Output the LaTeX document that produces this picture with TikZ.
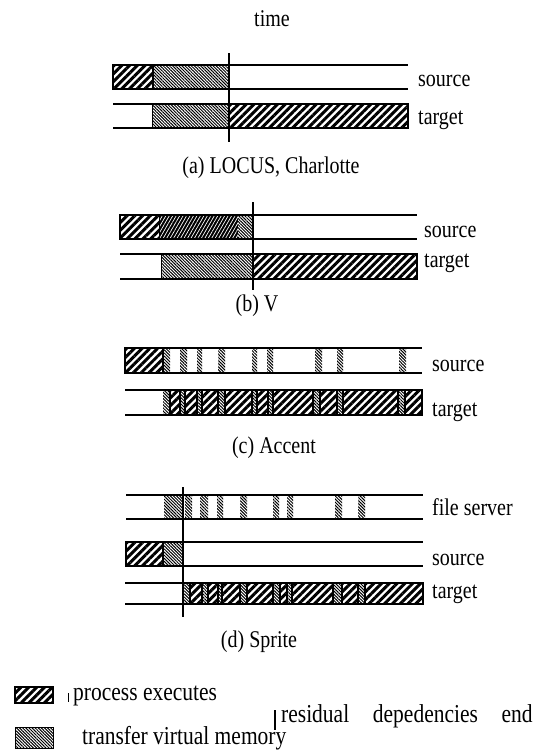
\documentclass[tikz,border=0pt]{standalone}
\usepackage{fontspec}
\setmainfont{Liberation Serif}
\usetikzlibrary{patterns.meta}
\newcommand{\tallt}[1]{\scalebox{1}[1.2]{#1}}
\tikzset{
  x=1pt, y=-1pt,
  every node/.style={inner sep=0pt, font=\fontsize{20}{22}\selectfont},
  track/.style={line width=1.3pt},
  marker/.style={line width=1.6pt},
  exec/.style={
    draw=black, line width=1.6pt,
    pattern={Lines[angle=45, distance=5.5pt, line width=3pt]},
  },
  xfer/.style={
    pattern={Lines[angle=-45, distance=2.2pt, line width=1pt]},
  },
  xferbox/.style={xfer, draw=black, line width=1pt},
  xferdark/.style={
    preaction={fill=black},
    pattern={Lines[angle=60, distance=3pt, line width=0.7pt]},
    pattern color=white,
  },
  rowlabel/.style={anchor=base west},
  caption/.style={anchor=base},
  legend/.style={anchor=base west, font=\fontsize{21.5}{23}\selectfont},
}
% x from, x to, y top, y bottom
\newcommand{\rowlines}[4]{%
  \draw[track] (#1,#3) -- (#2,#3) (#1,#4) -- (#2,#4);
}
\begin{document}
\begin{tikzpicture}
  \useasboundingbox (0,0) rectangle (545,755);
  \node[caption] (time) at (272,26) {\tallt{time}};

  % (a) LOCUS, Charlotte
  \draw[exec] (113,65) rectangle (153,89);
  \path[xfer] (153,65) rectangle (229,89);
  \draw[xferbox] (152,104) rectangle (229,128);
  \draw[exec] (229,104) rectangle (408,128);
  \rowlines{113}{408}{65}{89}
  \rowlines{113}{408}{104}{128}
  \coordinate (a top) at (229,53);
  \coordinate (a bot) at (229,142);
  \draw[marker] (a top) -- (a bot);
  \node[rowlabel] (a source) at (418,86) {\tallt{source}};
  \node[rowlabel] (a target) at (418,124) {\tallt{target}};
  \node[caption] (a cap) at (271,173) {\tallt{(a) LOCUS, Charlotte}};

  % (b) V
  \draw[exec] (120,215) rectangle (160,239);
  \path[xferdark] (160,215) rectangle (238,239);
  \path[xfer] (238,215) rectangle (253,239);
  \draw[xferbox] (161,254) rectangle (253,279);
  \draw[exec] (253,254) rectangle (417,279);
  \rowlines{120}{417}{215}{239}
  \rowlines{120}{417}{254}{279}
  \coordinate (b top) at (253,202);
  \coordinate (b bot) at (253,290);
  \draw[marker] (b top) -- (b bot);
  \node[rowlabel] (b source) at (424,237) {\tallt{source}};
  \node[rowlabel] (b target) at (424,267) {\tallt{target}};
  \node[caption] (b cap) at (257,311) {\tallt{(b) V}};

  % (c) Accent
  \draw[exec] (125,348) rectangle (163,373);
  \foreach \a/\b in {163/170, 180/187, 197/202, 218/225, 252/257,
                     267/273, 315/322, 337/343, 399/406}
    \path[xfer] (\a,348) rectangle (\b,373);
  \foreach \a/\b in {170/180, 185/197, 202/218, 225/252, 257/268,
                     273/313, 320/337, 343/398, 405/422}
    \draw[exec] (\a,390) rectangle (\b,415);
  \foreach \a/\b in {163/170, 180/185, 197/202, 218/225, 252/257,
                     268/273, 313/320, 337/343, 398/405}
    \path[xfer] (\a,390) rectangle (\b,415);
  \rowlines{125}{422}{348}{373}
  \rowlines{125}{422}{390}{415}
  \node[rowlabel] (c source) at (432,371) {\tallt{source}};
  \node[rowlabel] (c target) at (432,416) {\tallt{target}};
  \node[caption] (c cap) at (274,453) {\tallt{(c) Accent}};

  % (d) Sprite
  \path[xfer] (164,495) rectangle (183,519);
  \foreach \a/\b in {185/192, 200/208, 217/223, 240/247,
                     273/279, 287/293, 335/342, 358/365}
    \path[xfer] (\a,495) rectangle (\b,519);
  \draw[exec] (126,542) rectangle (163,566);
  \path[xfer] (163,542) rectangle (183,566);
  \foreach \a/\b in {190/202, 208/218, 222/240, 247/273,
                     280/287, 292/333, 342/358, 365/423}
    \draw[exec] (\a,583) rectangle (\b,604);
  \foreach \a/\b in {184/190, 202/208, 218/222, 240/247,
                     273/280, 287/292, 333/342, 358/365}
    \path[xfer] (\a,583) rectangle (\b,604);
  \rowlines{126}{423}{495}{519}
  \rowlines{126}{423}{542}{566}
  \rowlines{125}{423}{583}{604}
  \coordinate (d top) at (183,487);
  \coordinate (d bot) at (183,617);
  \draw[marker] (d top) -- (d bot);
  \node[rowlabel] (d server) at (432,515) {\tallt{file server}};
  \node[rowlabel] (d source) at (432,565) {\tallt{source}};
  \node[rowlabel] (d target) at (432,598) {\tallt{target}};
  \node[caption] (d cap) at (259,647) {\tallt{(d) Sprite}};

  % legend
  \draw[exec] (15,687) rectangle (53,703);
  \coordinate (tick top) at (68,693);
  \coordinate (tick bot) at (68,702);
  \draw[line width=0.6pt] (tick top) -- (tick bot);
  \node[legend] (exec text) at (73,700) {\tallt{process executes}};
  \draw[xferbox] (15,727) rectangle (53,748);
  \node[legend] (xfer text) at (82,744) {\tallt{transfer virtual memory}};
  \coordinate (end top) at (275,710);
  \coordinate (end bot) at (275,730);
  \draw[marker] (end top) -- (end bot);
  \node[legend] (end text) at (281,722)
    {\tallt{residual\hspace{1.1em}depedencies\hspace{1.1em}end}};
\end{tikzpicture}
\end{document}
